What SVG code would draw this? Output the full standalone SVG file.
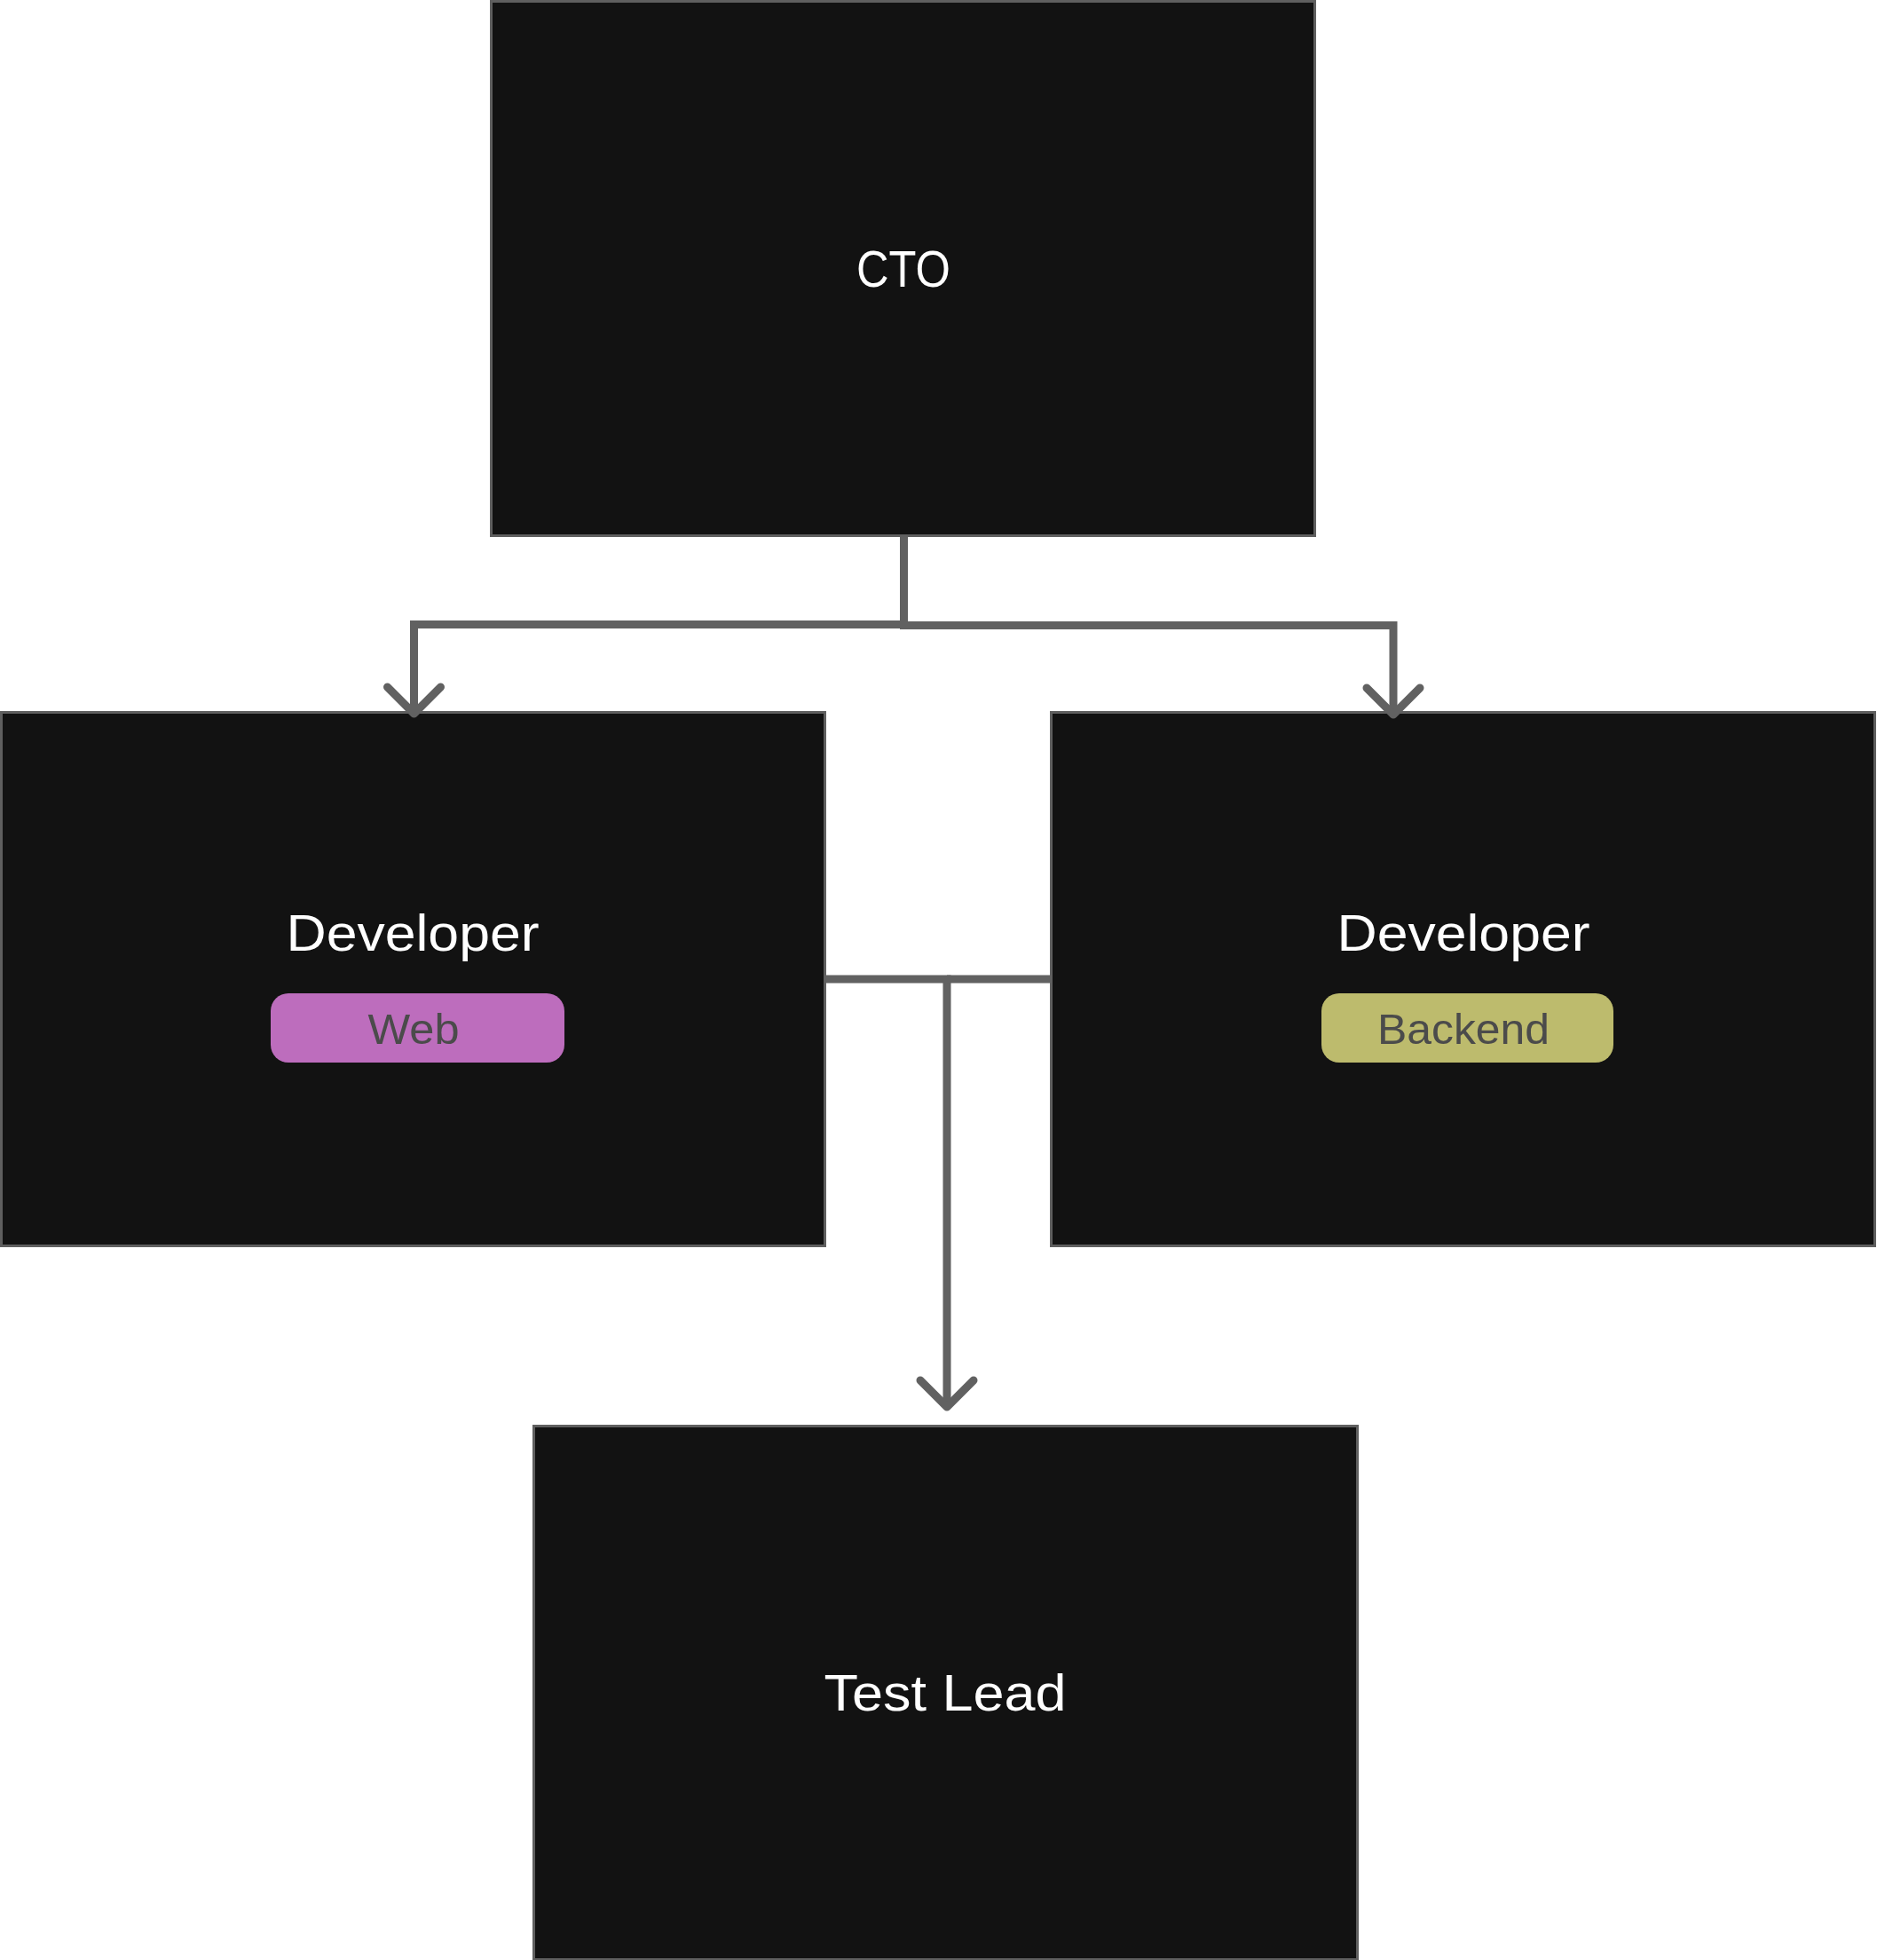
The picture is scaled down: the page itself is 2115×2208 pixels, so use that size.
<svg xmlns="http://www.w3.org/2000/svg" width="2115" height="2208" viewBox="0 0 2115 2208">
  <style>
    .box { fill: #121212; stroke: #5f5f5f; stroke-width: 3; }
    .title { font-family: "Liberation Sans", Arial, sans-serif; font-size: 58px; fill: #ffffff; text-anchor: middle; }
    .tag { font-family: "Liberation Sans", Arial, sans-serif; font-size: 49px; fill: #4b4b4b; text-anchor: middle; }
    .conn { fill: none; stroke: #616161; stroke-width: 9; }
  </style>
  <defs>
    <marker id="arr" markerUnits="userSpaceOnUse" viewBox="-40 -40 80 80" markerWidth="80" markerHeight="80" refX="0" refY="0" orient="auto">
      <path d="M-30,-30 L0,0 L-30,30" fill="none" stroke="#616161" stroke-width="9" stroke-linecap="round" stroke-linejoin="round"/>
    </marker>
  </defs>
  <rect width="2115" height="2208" fill="#ffffff"/>

  <g id="cto">
    <rect class="box" x="553.5" y="1.5" width="928" height="602"/>
    <text class="title" x="1018" y="323" textLength="106" lengthAdjust="spacingAndGlyphs">CTO</text>
  </g>

  <g id="dev-web">
    <rect class="box" x="1.5" y="802.5" width="928" height="601"/>
    <text class="title" x="465" y="1071" textLength="285" lengthAdjust="spacingAndGlyphs">Developer</text>
    <rect x="305" y="1119" width="331" height="78" rx="20" fill="#bd6dbd"/>
    <text class="tag" x="466" y="1176" textLength="103" lengthAdjust="spacingAndGlyphs">Web</text>
  </g>

  <g id="dev-backend">
    <rect class="box" x="1184.5" y="802.5" width="928" height="601"/>
    <text class="title" x="1649" y="1071" textLength="285" lengthAdjust="spacingAndGlyphs">Developer</text>
    <rect x="1489" y="1119" width="329" height="78" rx="20" fill="#bdbb6d"/>
    <text class="tag" x="1649" y="1176" textLength="194" lengthAdjust="spacingAndGlyphs">Backend</text>
  </g>

  <g id="test-lead">
    <rect class="box" x="601.5" y="1606.5" width="928" height="601"/>
    <text class="title" x="1065" y="1927" textLength="273" lengthAdjust="spacingAndGlyphs">Test Lead</text>
  </g>

  <g id="connectors">
    <path class="conn" d="M1018.5,605 V703.5 H466.5 V804" marker-end="url(#arr)"/>
    <path class="conn" d="M1018.5,605 V704.5 H1570 V805" marker-end="url(#arr)"/>
    <path class="conn" d="M931,1103 H1067 V1585" marker-end="url(#arr)"/>
    <path class="conn" d="M1183,1103 H1067"/>
  </g>
</svg>
